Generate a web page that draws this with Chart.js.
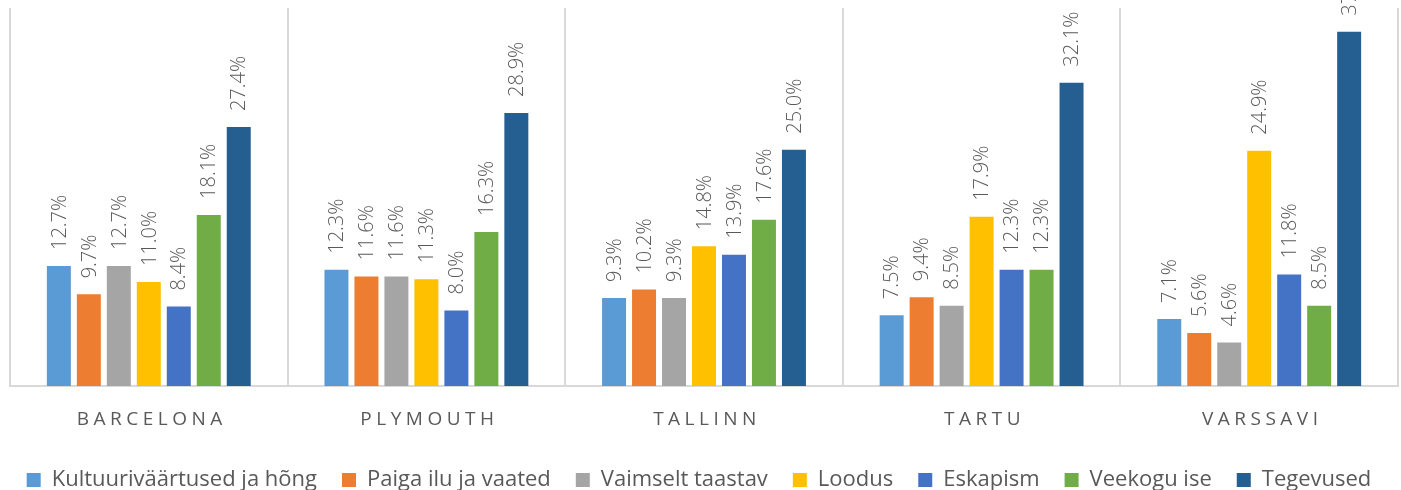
<!DOCTYPE html>
<html>
<head>
<meta charset="utf-8">
<script src="https://cdn.jsdelivr.net/npm/chart.js@4/dist/chart.umd.min.js"></script>
<style>
  html, body { margin: 0; padding: 0; background: #fff; }
  #wrap { width: 1401px; height: 490px; }
</style>
</head>
<body>
<div id="wrap"><canvas id="chart"></canvas></div>
<script>
var cities = ['BARCELONA', 'PLYMOUTH', 'TALLINN', 'TARTU', 'VARSSAVI'];

var kultuur = [12.7, 12.3, 9.3, 7.5, 7.1];
var paiga = [9.7, 11.6, 10.2, 9.4, 5.6];
var vaimselt = [12.7, 11.6, 9.3, 8.5, 4.6];
var loodus = [11.0, 11.3, 14.8, 17.9, 24.9];
var eskapism = [8.4, 8.0, 13.9, 12.3, 11.8];
var veekogu = [18.1, 16.3, 17.6, 12.3, 8.5];
var tegevused = [27.4, 28.9, 25.0, 32.1, 37.5];

var seriesNames = ['Kultuuriväärtused ja hõng', 'Paiga ilu ja vaated', 'Vaimselt taastav',
    'Loodus', 'Eskapism', 'Veekogu ise', 'Tegevused'];
var seriesData = [kultuur, paiga, vaimselt, loodus, eskapism, veekogu, tegevused];
var colors = ['#5B9BD5', '#ED7D31', '#A5A5A5', '#FFC000', '#4472C4', '#70AD47', '#255E91'];

var FONT = "'Open Sans', sans-serif";
var TEXT = '#595959';

// value labels, rotated, above every bar
var barLabels = {
    id: 'barLabels',
    afterDatasetsDraw: function(chart) {
        var ctx = chart.ctx;
        ctx.save();
        ctx.font = '300 20px ' + FONT;
        ctx.fillStyle = TEXT;
        ctx.textAlign = 'left';
        ctx.textBaseline = 'middle';
        chart.data.datasets.forEach(function(ds, i) {
            chart.getDatasetMeta(i).data.forEach(function(bar, j) {
                ctx.save();
                ctx.translate(bar.x + 1, bar.y - 16);
                ctx.rotate(-Math.PI / 2);
                ctx.fillText(ds.data[j].toFixed(1) + '%', 0, 0);
                ctx.restore();
            });
        });
        ctx.restore();
    }
};

// category names with letter spacing
var cityLabels = {
    id: 'cityLabels',
    afterDraw: function(chart) {
        var ctx = chart.ctx;
        var x = chart.scales.x;
        ctx.save();
        ctx.font = '19px ' + FONT;
        ctx.fillStyle = TEXT;
        ctx.letterSpacing = '4.5px';
        ctx.textAlign = 'center';
        ctx.textBaseline = 'middle';
        chart.data.labels.forEach(function(lbl, i) {
            ctx.fillText(lbl, x.getPixelForValue(i) + 3, chart.chartArea.bottom + 34);
        });
        ctx.restore();
    }
};

// pull the legend a bit lower
var legendShift = {
    id: 'legendShift',
    beforeInit: function(chart) {
        var fit = chart.legend.fit;
        chart.legend.fit = function() {
            fit.call(this);
            this.height -= 11;
        };
    }
};

new Chart(document.getElementById('chart'), {
    type: 'bar',
    data: {
        labels: cities,
        datasets: seriesData.map(function(d, i) {
            return {
                label: seriesNames[i],
                data: d,
                backgroundColor: colors[i],
                barPercentage: 0.8,
                categoryPercentage: 0.756
            };
        })
    },
    options: {
        responsive: true,
        maintainAspectRatio: false,
        animation: false,
        layout: { padding: { top: 8, left: 0, right: 3, bottom: 0 } },
        scales: {
            x: {
                grid: { color: '#D9D9D9', lineWidth: 2, offset: true, drawTicks: false },
                border: { color: '#D9D9D9', width: 2 },
                ticks: { display: false },
                afterFit: function(s) { s.height = 58; }
            },
            y: {
                min: 0,
                max: 40,
                ticks: { display: false },
                grid: { display: false },
                border: { display: false },
                afterFit: function(s) { s.width = 10; }
            }
        },
        plugins: {
            legend: {
                position: 'bottom',
                labels: {
                    font: { family: FONT, size: 22 },
                    color: TEXT,
                    boxWidth: 14,
                    boxHeight: 14,
                    padding: 25
                }
            },
            tooltip: { enabled: false }
        }
    },
    plugins: [barLabels, cityLabels, legendShift]
});
</script>
</body>
</html>
